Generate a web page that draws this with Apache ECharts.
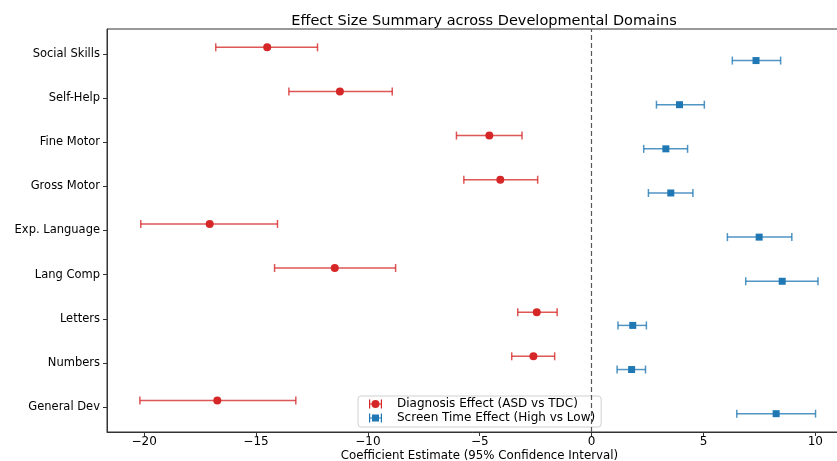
<!DOCTYPE html>
<html>
<head>
<meta charset="utf-8">
<script src="https://cdn.jsdelivr.net/npm/echarts@6/dist/echarts.min.js"></script>
<style>
  html, body { margin: 0; padding: 0; background: #fff; }
  #chart { width: 837px; height: 461px; }
</style>
</head>
<body>
<div id="chart"></div>
<script>
// domains listed top to bottom
var domains = ["Social Skills", "Self-Help", "Fine Motor", "Gross Motor", "Exp. Language", "Lang Comp", "Letters", "Numbers", "General Dev"];

var diagEst = [-14.5, -11.25, -4.57, -4.08, -17.07, -11.48, -2.45, -2.6, -16.73];
var diagLo = [-16.8, -13.53, -6.04, -5.71, -20.15, -14.17, -3.3, -3.57, -20.19];
var diagHi = [-12.25, -8.91, -3.11, -2.41, -14.04, -8.76, -1.54, -1.65, -13.22];

var screenEst = [7.35, 3.93, 3.32, 3.54, 7.49, 8.52, 1.84, 1.79, 8.25];
var screenLo = [6.29, 2.9, 2.33, 2.54, 6.07, 6.89, 1.18, 1.14, 6.49];
var screenHi = [8.45, 5.04, 4.29, 4.53, 8.95, 10.12, 2.45, 2.41, 10.01];

var xTicks = [-20, -15, -10, -5, 0, 5, 10];

var n = domains.length;
var FONT = "DejaVu Sans";
var RED = "#d62728", BLUE = "#1f77b4";

// y position: bottom domain is 0, top is n-1
function yPos(i, off) { return n - 1 - i + off; }

function barData(lo, hi, off) {
  return lo.map(function (v, i) { return [v, hi[i], yPos(i, off)]; });
}
function pointData(est, off) {
  return est.map(function (v, i) { return [v, yPos(i, off)]; });
}

function errRender(color) {
  return function (params, api) {
    var y = api.value(2);
    var a = api.coord([api.value(0), y]);
    var b = api.coord([api.value(1), y]);
    var cap = 4;
    var st = { stroke: color, lineWidth: 1.5 };
    return {
      type: "group",
      children: [
        { type: "line", shape: { x1: a[0], y1: a[1], x2: b[0], y2: b[1] }, style: st },
        { type: "line", shape: { x1: a[0], y1: a[1] - cap, x2: a[0], y2: a[1] + cap }, style: st },
        { type: "line", shape: { x1: b[0], y1: b[1] - cap, x2: b[0], y2: b[1] + cap }, style: st }
      ]
    };
  };
}

var minus = function (v) { return String(v).replace("-", "\u2212"); };

// legend glyphs: error bar with marker
var iconCircle = "path://M0,0H1.2V9H0ZM11.8,0H13V9H11.8ZM0,3.9H13V5.1H0ZM6.5,0.5A4,4 0 1,1 6.49,0.5Z";
var iconSquare = "path://M0,0H1.2V9H0ZM11.8,0H13V9H11.8ZM0,3.9H13V5.1H0ZM3,1H10V8H3Z";

var yTickPos = domains.map(function (d, i) { return yPos(i, 0); });

var chart = echarts.init(document.getElementById("chart"));
chart.setOption({
  animation: false,
  title: {
    text: "Effect Size Summary across Developmental Domains",
    left: 479,
    top: 9,
    textAlign: "center",
    textStyle: { fontFamily: FONT, fontSize: 14.5, fontWeight: "normal", color: "#000" }
  },
  legend: {
    orient: "vertical",
    left: 358,
    top: 396,
    itemWidth: 13,
    itemHeight: 9,
    itemGap: 2,
    padding: [2, 6, 3, 11],
    borderColor: "#d0d0d0",
    borderWidth: 1,
    borderRadius: 3,
    backgroundColor: "rgba(255,255,255,0.85)",
    textStyle: { fontFamily: FONT, fontSize: 12, color: "#000", padding: [0, 0, 0, 10] },
    data: [
      { name: "Diagnosis Effect (ASD vs TDC)", icon: iconCircle, itemStyle: { color: RED } },
      { name: "Screen Time Effect (High vs Low)", icon: iconSquare, itemStyle: { color: BLUE } }
    ]
  },
  grid: {
    left: 107,
    right: -15,
    top: 29,
    bottom: 29,
    show: true,
    borderColor: "#333",
    borderWidth: 1,
    outerBoundsMode: "none"
  },
  xAxis: {
    type: "value",
    min: -21.66,
    max: 11.64,
    name: "Coefficient Estimate (95% Confidence Interval)",
    nameLocation: "middle",
    nameGap: 17.5,
    nameMoveOverlap: false,
    nameTextStyle: { fontFamily: FONT, fontSize: 11.8, color: "#000" },
    splitLine: { show: false },
    axisLine: { show: true, onZero: false, lineStyle: { color: "#333" } },
    axisTick: { show: true, length: 4, customValues: xTicks, lineStyle: { color: "#333" } },
    axisLabel: { customValues: xTicks, formatter: minus, fontFamily: FONT, fontSize: 12, color: "#000", margin: 4 }
  },
  yAxis: {
    type: "value",
    min: -0.565,
    max: 8.565,
    splitLine: { show: false },
    axisLine: { show: true, onZero: false, lineStyle: { color: "#333" } },
    axisTick: { show: true, length: 4, customValues: yTickPos, lineStyle: { color: "#333" } },
    axisLabel: {
      customValues: yTickPos,
      formatter: function (v) { return domains[n - 1 - Math.round(v)]; },
      fontFamily: FONT, fontSize: 11.5, color: "#000", margin: 7
    }
  },
  series: [
    {
      name: "Diagnosis Effect (ASD vs TDC)",
      type: "custom",
      renderItem: errRender("rgba(214,39,40,0.78)"),
      encode: { x: [0, 1], y: 2 },
      data: barData(diagLo, diagHi, 0.15),
      itemStyle: { color: RED },
      z: 2,
      markLine: {
        silent: true,
        symbol: "none",
        label: { show: false },
        lineStyle: { color: "#555", type: [5, 3], width: 1.2 },
        data: [{ xAxis: 0 }]
      }
    },
    {
      name: "Screen Time Effect (High vs Low)",
      type: "custom",
      renderItem: errRender("rgba(31,119,180,0.78)"),
      encode: { x: [0, 1], y: 2 },
      data: barData(screenLo, screenHi, -0.15),
      itemStyle: { color: BLUE },
      z: 2
    },
    {
      name: "Diagnosis Effect (ASD vs TDC)",
      type: "scatter",
      symbol: "circle",
      symbolSize: 8,
      itemStyle: { color: RED, opacity: 1 },
      data: pointData(diagEst, 0.15),
      z: 3
    },
    {
      name: "Screen Time Effect (High vs Low)",
      type: "scatter",
      symbol: "rect",
      symbolSize: 7,
      itemStyle: { color: BLUE, opacity: 1 },
      data: pointData(screenEst, -0.15),
      z: 3
    }
  ]
});
</script>
</body>
</html>
